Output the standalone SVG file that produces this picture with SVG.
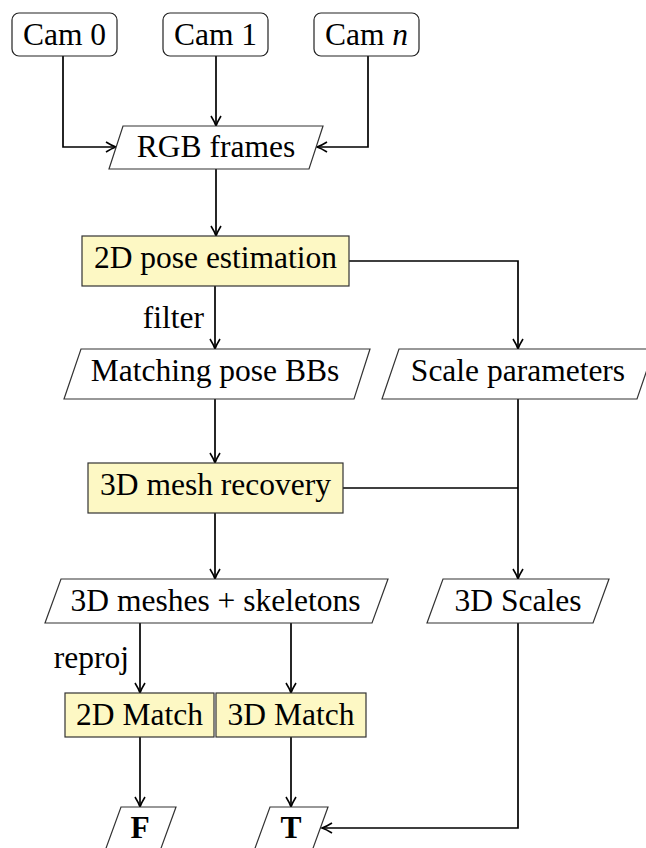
<svg xmlns="http://www.w3.org/2000/svg" width="646" height="848" viewBox="0 0 646 848">
<style>
text{font-family:"Liberation Serif",Times,"Times New Roman",serif;font-size:31.5px;fill:#000;text-anchor:middle}
.lbl{text-anchor:end}
.box{fill:#fdf8c4;stroke:#333;stroke-width:1.2}
.io{fill:#fff;stroke:#333;stroke-width:1.2}
.cam{fill:#fff;stroke:#222;stroke-width:1.2}
.c{fill:none;stroke:#000;stroke-width:1.7}
.b{font-weight:bold}
</style>
<defs>
<marker id="ah" markerUnits="userSpaceOnUse" markerWidth="14" markerHeight="14" viewBox="-12 -7 14 14" refX="0" refY="0" orient="auto">
<path d="M-10,-5 Q-4,-1.2 0,0 Q-4,1.2 -10,5" fill="none" stroke="#000" stroke-width="1.6"/>
</marker>
</defs>
<g id="connectors">
<path class="c" d="M63,56 V147 H116" marker-end="url(#ah)"/>
<path class="c" d="M216,56 V126" marker-end="url(#ah)"/>
<path class="c" d="M368,56 V147 H317" marker-end="url(#ah)"/>
<path class="c" d="M216,169 V236" marker-end="url(#ah)"/>
<path class="c" d="M349,261 H518 V349" marker-end="url(#ah)"/>
<path class="c" d="M215,286 V349" marker-end="url(#ah)"/>
<path class="c" d="M215,399 V463" marker-end="url(#ah)"/>
<path class="c" d="M518,399 V579" marker-end="url(#ah)"/>
<path class="c" d="M343,488 H518"/>
<path class="c" d="M215,513 V579" marker-end="url(#ah)"/>
<path class="c" d="M140,623 V693" marker-end="url(#ah)"/>
<path class="c" d="M291,623 V693" marker-end="url(#ah)"/>
<path class="c" d="M140,737 V807" marker-end="url(#ah)"/>
<path class="c" d="M291,737 V807" marker-end="url(#ah)"/>
<path class="c" d="M518,623 V828 H322" marker-end="url(#ah)"/>
<text class="lbl" x="204" y="328">filter</text>
<text class="lbl" x="129" y="668">reproj</text>
</g>
<g id="cam0"><rect class="cam" x="12" y="13" width="105" height="43" rx="7"/><text x="64.5" y="45">Cam 0</text></g>
<g id="cam1"><rect class="cam" x="163" y="13" width="105" height="43" rx="7"/><text x="215.5" y="45">Cam 1</text></g>
<g id="camn"><rect class="cam" x="314" y="13" width="105" height="43" rx="7"/><text x="366.5" y="45">Cam <tspan font-style="italic">n</tspan></text></g>
<g id="rgb"><polygon class="io" points="123,126 323,126 309,169 109,169"/><text x="216" y="157">RGB frames</text></g>
<g id="pose2d"><rect class="box" x="82" y="236" width="267" height="50"/><text x="215.5" y="268">2D pose estimation</text></g>
<g id="matching"><polygon class="io" points="81,349 370,349 354,399 64,399"/><text x="215" y="381">Matching pose BBs</text></g>
<g id="scaleparams"><polygon class="io" points="399,349 654,349 637,399 382,399"/><text x="518" y="381">Scale parameters</text></g>
<g id="mesh3d"><rect class="box" x="88" y="463" width="255" height="50"/><text x="215.5" y="495">3D mesh recovery</text></g>
<g id="meshes"><polygon class="io" points="61,579 388,579 372,623 45,623"/><text x="215.5" y="611">3D meshes + skeletons</text></g>
<g id="scales3d"><polygon class="io" points="443,579 609,579 593,623 427,623"/><text x="518" y="611">3D Scales</text></g>
<g id="match2d"><rect class="box" x="65" y="693" width="149" height="44"/><text x="139.5" y="725">2D Match</text></g>
<g id="match3d"><rect class="box" x="216" y="693" width="150" height="44"/><text x="291" y="725">3D Match</text></g>
<g id="F"><polygon class="io" points="121,807 176,807 160,851 105,851"/><text class="b" x="140" y="838">F</text></g>
<g id="T"><polygon class="io" points="270,807 328,807 312,851 254,851"/><text class="b" x="291" y="838">T</text></g>
</svg>
